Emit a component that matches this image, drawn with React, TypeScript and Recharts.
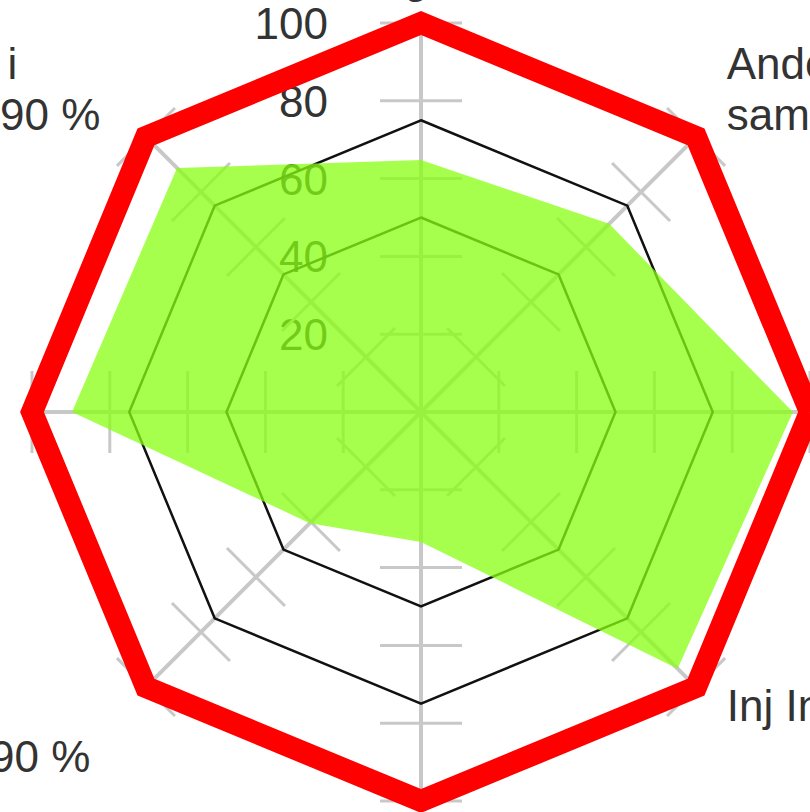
import React from 'react';
import { RadarChart, Radar, PolarGrid, PolarAngleAxis, PolarRadiusAxis } from 'recharts';

// Kategorier, med uret fra toppen (linjeskift = ny linje i etiketten)
const categories = [
  'HbA1c og kreatinin',
  'Andel med øyeundersøkelse\nsamtidig med årskontroll',
  'Fotundersøkelse\nsiste år',
  'Inj Insulin brukere',
  'Statin\nved LDL > 2,5',
  'BT\nBlodtrykk under 140/80 mål 90 %',
  'HbA1c\nunder 7,0 %',
  'Andel med HbA1c målt i\nløpet av siste året, mål 90 %',
];

const resultat = [64.8, 68.4, 95.6, 93.3, 33.4, 40.4, 89.7, 88.7];
const nivaa50 = [50, 50, 50, 50, 50, 50, 50, 50];
const nivaa75 = [75, 75, 75, 75, 75, 75, 75, 75];
const maks = [100, 100, 100, 100, 100, 100, 100, 100];

const radiusDomain = [0, 100];

const data = categories.map((navn, i) => ({
  navn,
  resultat: resultat[i],
  nivaa50: nivaa50[i],
  nivaa75: nivaa75[i],
  maks: maks[i],
}));

const CX = 421;
const CY = 412;
const R = 389;
const FONT = '"Liberation Sans", Arial, sans-serif';
const FS = 44;
const LH = 51;
const TEXT = '#333333';

let ctx: CanvasRenderingContext2D | null = null;
function textWidth(s: string) {
  if (!ctx) ctx = document.createElement('canvas').getContext('2d');
  if (!ctx) return s.length * FS * 0.5;
  ctx.font = `${FS}px ${FONT}`;
  return ctx.measureText(s).width;
}

function RadiusTick(props: any) {
  const { x, y, payload } = props;
  if (payload.value === 0) return <g />;
  const step = 360 / categories.length;
  return (
    <g>
      {categories.map((_, k) => (
        <line
          key={k}
          x1={x - 41}
          y1={y}
          x2={x + 41}
          y2={y}
          transform={`rotate(${k * step} ${CX} ${CY})`}
          stroke="#c8c8c8"
          strokeWidth={3}
        />
      ))}
      <text x={x - 93} y={y + 16} textAnchor="end" fontFamily={FONT} fontSize={FS} fill={TEXT}>
        {payload.value}
      </text>
    </g>
  );
}

function AngleTick(props: any) {
  const { payload } = props;
  const lines = String(payload.value).split('\n');
  const rad = (payload.coordinate * Math.PI) / 180;
  const c = Math.cos(rad);
  const s = Math.sin(rad);
  const x = CX + (R + 8) * c;
  const y = CY - (R + 8) * s;

  const side = c > 0.1 ? 'right' : c < -0.1 ? 'left' : 'center';
  const vert = s > 0.1 ? 'upper' : s < -0.1 ? 'lower' : 'middle';

  let firstBase: number;
  if (vert === 'upper') {
    firstBase = (side === 'center' ? y - 22 : y - 1) - (lines.length - 1) * LH;
  } else if (vert === 'lower') {
    firstBase = side === 'center' ? y + 45 : y + 28;
  } else {
    firstBase = y - ((lines.length - 1) * LH) / 2 + 15;
  }

  let anchor: 'start' | 'middle' = 'start';
  let tx = x;
  if (side === 'right') {
    tx = x + 25;
  } else if (side === 'left') {
    const w = Math.max(...lines.map(textWidth));
    tx = x - (vert === 'lower' ? 50 : 40) - w;
  } else {
    anchor = 'middle';
  }

  return (
    <text fontFamily={FONT} fontSize={FS} fill={TEXT} textAnchor={anchor}>
      {lines.map((l, i) => (
        <tspan key={i} x={tx} y={firstBase + i * LH}>
          {l}
        </tspan>
      ))}
    </text>
  );
}

export default function App() {
  return (
    <div style={{ position: 'absolute', left: 0, top: 0, width: 810, height: 812, background: '#fff' }}>
      <RadarChart
        width={810}
        height={812}
        cx={CX}
        cy={CY}
        outerRadius={R}
        data={data}
        margin={{ top: 0, right: 0, bottom: 0, left: 0 }}
      >
        <PolarGrid gridType="polygon" polarRadius={[0]} stroke="#c8c8c8" strokeWidth={4} />
        <PolarAngleAxis dataKey="navn" tick={AngleTick} tickLine={false} axisLine={false} />
        <PolarRadiusAxis
          angle={90}
          domain={radiusDomain}
          tickCount={6}
          axisLine={false}
          tick={RadiusTick}
          zIndex={-50}
        />
        <Radar dataKey="nivaa50" stroke="#111111" strokeWidth={2.5} fill="none" fillOpacity={0} isAnimationActive={false} />
        <Radar dataKey="nivaa75" stroke="#111111" strokeWidth={2.5} fill="none" fillOpacity={0} isAnimationActive={false} />
        <Radar dataKey="resultat" stroke="none" fill="#88ff11" fillOpacity={0.75} isAnimationActive={false} />
        <Radar dataKey="maks" stroke="#ff0000" strokeWidth={22} fill="none" fillOpacity={0} isAnimationActive={false} />
      </RadarChart>
    </div>
  );
}
